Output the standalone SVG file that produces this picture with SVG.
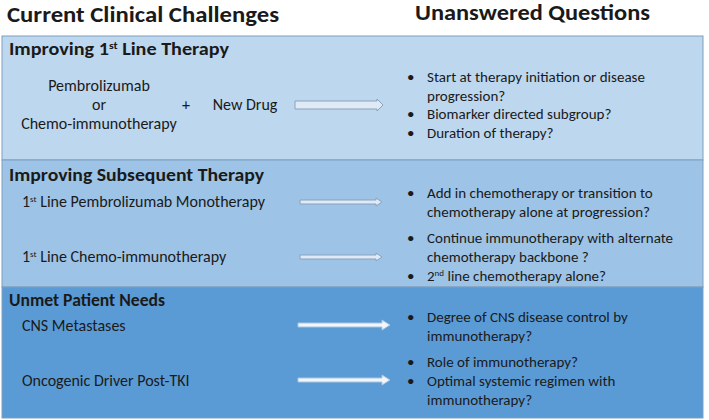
<svg xmlns="http://www.w3.org/2000/svg" width="709" height="420" viewBox="0 0 709 420">
<style>
text{font-family:Calibri,Carlito,Lato,"Liberation Sans",sans-serif;fill:#1a1a1a;font-size:15px}
.l{font-size:16px}
.h{font-size:22px;font-weight:bold}
.s{font-size:17px;font-weight:bold}
.arr{fill:#dfeaf6;stroke:#8aa2bd;stroke-width:1}
</style>
<rect width="709" height="420" fill="#fff"/>
<text class="h" x="7" y="22" textLength="272" lengthAdjust="spacingAndGlyphs">Current Clinical Challenges</text>
<text class="h" x="415" y="20" textLength="235" lengthAdjust="spacingAndGlyphs">Unanswered Questions</text>
<g id="box1">
<rect x="2" y="36" width="701" height="124" fill="#bdd7ee" stroke="#7f9fbf"/>
<text class="s" x="9" y="55" textLength="220" lengthAdjust="spacingAndGlyphs">Improving 1<tspan font-size="10" dy="-6">st</tspan><tspan dy="6"> Line Therapy</tspan></text>
<text class="l" x="99" y="91" text-anchor="middle">Pembrolizumab</text>
<text class="l" x="99" y="110" text-anchor="middle">or</text>
<text class="l" x="99" y="129" text-anchor="middle">Chemo-immunotherapy</text>
<text class="l" x="186" y="110" text-anchor="middle">+</text>
<text class="l" x="245" y="110" text-anchor="middle">New Drug</text>
<text x="407" y="82">•</text><text x="427" y="82">Start at therapy initiation or disease</text>
<text x="427" y="101">progression?</text>
<text x="407" y="119">•</text><text x="427" y="119">Biomarker directed subgroup?</text>
<text x="407" y="138">•</text><text x="427" y="138">Duration of therapy?</text>
</g>
<g id="box2">
<rect x="2" y="160" width="701" height="127" fill="#9dc3e6" stroke="#7f9fbf"/>
<text class="s" x="9" y="181" textLength="255" lengthAdjust="spacingAndGlyphs">Improving Subsequent Therapy</text>
<text class="l" x="22" y="207">1<tspan font-size="9" dy="-5">st</tspan><tspan dy="5"> Line Pembrolizumab Monotherapy</tspan></text>
<text class="l" x="22" y="262">1<tspan font-size="9" dy="-5">st</tspan><tspan dy="5"> Line Chemo-immunotherapy</tspan></text>
<text x="407" y="198">•</text><text x="427" y="198">Add in chemotherapy or transition to</text>
<text x="427" y="217">chemotherapy alone at progression?</text>
<text x="407" y="243">•</text><text x="427" y="243">Continue immunotherapy with alternate</text>
<text x="427" y="262">chemotherapy backbone ?</text>
<text x="407" y="281">•</text><text x="427" y="281">2<tspan font-size="9" dy="-5">nd</tspan><tspan dy="5"> line chemotherapy alone?</tspan></text>
</g>
<g id="box3">
<rect x="2" y="287" width="701" height="131" fill="#5b9bd5" stroke="#7f9fbf"/>
<text class="s" x="9" y="306" textLength="156" lengthAdjust="spacingAndGlyphs">Unmet Patient Needs</text>
<text class="l" x="22" y="331">CNS Metastases</text>
<text class="l" x="22" y="386">Oncogenic Driver Post-TKI</text>
<text x="407" y="322">•</text><text x="427" y="322">Degree of CNS disease control by</text>
<text x="427" y="341">immunotherapy?</text>
<text x="407" y="367">•</text><text x="427" y="367">Role of immunotherapy?</text>
<text x="407" y="386">•</text><text x="427" y="386">Optimal systemic regimen with</text>
<text x="427" y="405">immunotherapy?</text>
</g>
<g id="connectors">
<path class="arr" d="M295,101 H377 V99 L383,105 L377,111 V109 H295 Z"/>
<path class="arr" d="M300,200 H376 V198 L382,202 L376,206 V204 H300 Z"/>
<path class="arr" d="M300,255 H376 V253 L382,257 L376,261 V259 H300 Z"/>
<path d="M298,323 H382 V320 L390,325 L382,330 V327 H298 Z" fill="#f2f6fb" stroke="#a8c4e4"/>
<path d="M298,378 H382 V375 L390,380 L382,385 V382 H298 Z" fill="#f2f6fb" stroke="#a8c4e4"/>
</g>
</svg>
